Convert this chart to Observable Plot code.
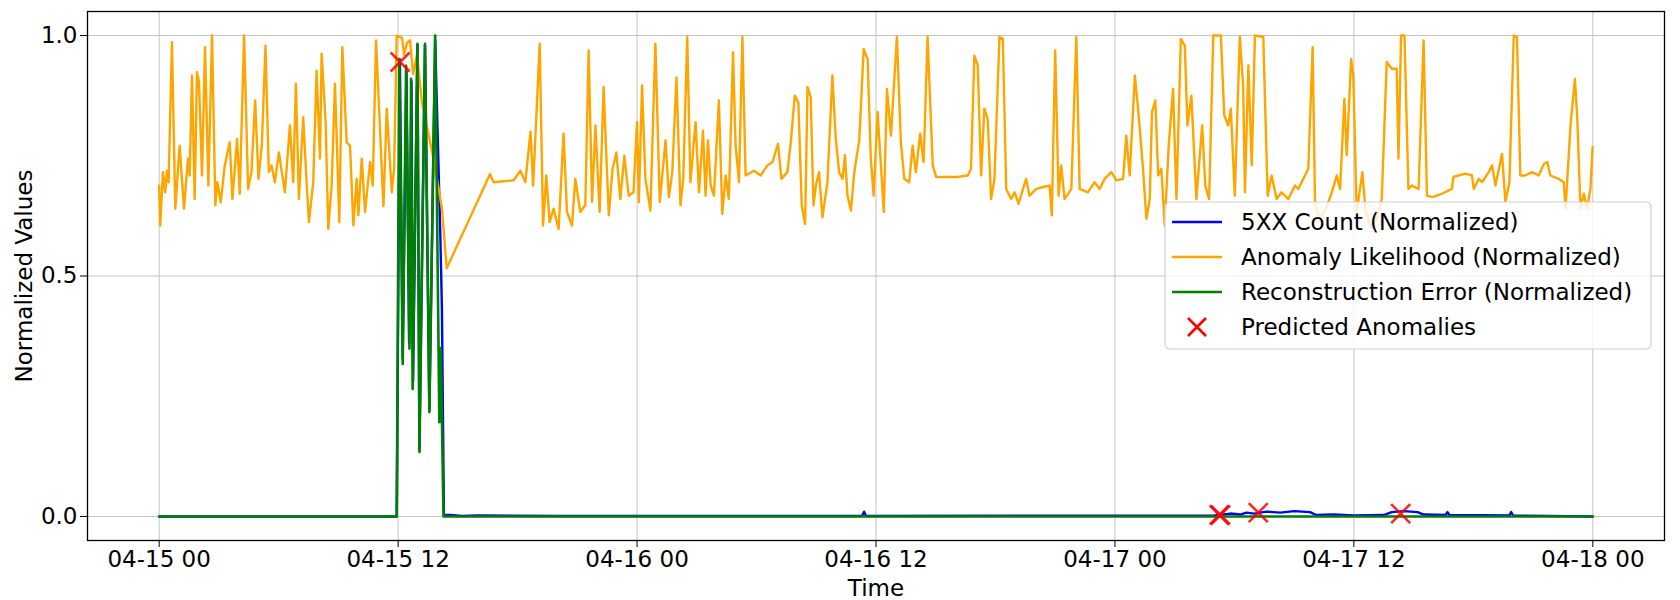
<!DOCTYPE html>
<html>
<head>
<meta charset="utf-8">
<script src="https://cdn.jsdelivr.net/npm/d3@7"></script>
<script src="https://cdn.jsdelivr.net/npm/@observablehq/plot@0.6"></script>
<style>
  html, body { margin: 0; padding: 0; background: white; }
  #chart { width: 1680px; height: 600px; }
</style>
</head>
<body>
<div id="chart"></div>
<script>
// ---- data (hours after 04-15 00:00, normalized value) ----
const startDate = Date.UTC(2024, 3, 15, 0, 0);
const tickHours = [0, 12, 24, 36, 48, 60, 72];
const yTicks = [0, 0.5, 1.0];

const likelihoodPoints = [
[0,0.688],[0.054,0.605],[0.188,0.716],[0.305,0.674],[0.389,0.719],[0.473,0.695],[0.641,0.986],[0.809,0.640],
[1.027,0.771],[1.245,0.640],[1.446,0.744],[1.53,0.709],[1.648,0.917],[1.782,0.660],[1.899,0.924],[2.0,0.903],
[2.151,0.709],[2.302,0.976],[2.47,0.688],[2.654,1.0],[2.822,0.647],[2.923,0.695],[3.091,0.653],[3.292,0.730],
[3.544,0.778],[3.678,0.660],[3.913,0.785],[4.047,0.671],[4.265,1.0],[4.466,0.681],[4.634,0.716],[4.819,0.865],
[4.987,0.702],[5.154,0.771],[5.339,0.979],[5.507,0.716],[5.641,0.730],[5.809,0.695],[6.01,0.757],[6.312,0.674],
[6.564,0.813],[6.732,0.695],[6.866,0.900],[7.017,0.660],[7.235,0.830],[7.403,0.695],[7.52,0.612],[7.738,0.695],
[7.906,0.927],[8.074,0.744],[8.158,0.962],[8.359,0.820],[8.493,0.598],[8.661,0.688],[8.829,0.900],[9.047,0.612],
[9.198,0.976],[9.416,0.778],[9.584,0.771],[9.752,0.605],[9.919,0.702],[10.003,0.626],[10.171,0.744],[10.339,0.633],
[10.59,0.737],[10.725,0.688],[10.892,0.990],[11.262,0.645],[11.43,0.848],[11.681,0.674],[11.799,0.723],[11.93,1.0],
[12.2,0.995],[12.3,0.96],[12.45,0.985],[12.6,0.99],[12.75,0.92],[12.95,0.96],[13.2,0.86],[13.5,0.80],
[13.7,0.76],[14.0,0.69],[14.2,0.64],[14.44,0.516],[16.62,0.712],[16.79,0.695],[17.3,0.697],[17.81,0.699],
[18.14,0.719],[18.39,0.695],[18.65,0.80],[18.78,0.688],[19.11,0.983],[19.28,0.605],[19.44,0.709],[19.61,0.612],
[19.81,0.640],[20.06,0.598],[20.31,0.796],[20.48,0.633],[20.73,0.605],[20.9,0.702],[21.15,0.633],[21.4,0.647],
[21.57,0.969],[21.74,0.654],[21.91,0.813],[22.12,0.633],[22.32,0.893],[22.58,0.626],[22.77,0.723],[22.96,0.757],
[23.16,0.660],[23.36,0.750],[23.58,0.667],[23.82,0.674],[24.0,0.820],[24.09,0.654],[24.25,0.896],[24.42,0.702],
[24.67,0.636],[24.92,0.983],[25.14,0.654],[25.43,0.782],[25.6,0.664],[25.77,0.716],[25.98,0.913],[26.18,0.647],
[26.32,0.702],[26.52,0.997],[26.68,0.695],[26.94,0.820],[27.11,0.674],[27.31,0.802],[27.44,0.667],[27.56,0.782],
[27.7,0.688],[27.86,0.667],[28.11,0.865],[28.28,0.629],[28.45,0.709],[28.61,0.660],[28.82,0.965],[28.95,0.771],
[29.12,0.695],[29.29,0.997],[29.45,0.709],[29.87,0.719],[30.21,0.709],[30.54,0.730],[30.8,0.737],[31.08,0.775],
[31.25,0.702],[31.55,0.716],[31.72,0.778],[31.92,0.875],[32.1,0.861],[32.27,0.647],[32.44,0.608],[32.56,0.893],
[32.72,0.872],[32.86,0.647],[32.98,0.688],[33.14,0.716],[33.31,0.622],[33.56,0.695],[33.81,0.917],[33.98,0.785],
[34.15,0.716],[34.32,0.702],[34.44,0.751],[34.57,0.667],[34.74,0.636],[34.91,0.716],[35.16,0.782],[35.38,0.972],
[35.58,0.951],[35.74,0.744],[35.88,0.667],[36.08,0.841],[36.39,0.633],[36.55,0.889],[36.75,0.792],[37.05,0.997],
[37.25,0.778],[37.42,0.702],[37.67,0.695],[37.84,0.771],[38.0,0.716],[38.22,0.796],[38.39,0.737],[38.59,0.997],
[38.85,0.730],[39.02,0.706],[39.43,0.706],[40.1,0.706],[40.61,0.709],[40.77,0.723],[40.94,0.958],[41.11,0.938],
[41.28,0.709],[41.44,0.848],[41.61,0.827],[41.78,0.660],[41.95,0.702],[42.2,0.997],[42.37,0.993],[42.54,0.681],
[42.79,0.660],[42.96,0.674],[43.16,0.650],[43.54,0.702],[43.71,0.667],[44.05,0.681],[44.38,0.685],[44.72,0.688],
[44.83,0.626],[45.0,0.969],[45.17,0.667],[45.3,0.730],[45.47,0.660],[45.81,0.681],[46.06,0.997],[46.23,0.681],
[46.64,0.674],[46.98,0.695],[47.23,0.681],[47.48,0.702],[47.82,0.716],[48.07,0.699],[48.41,0.702],[48.57,0.792],
[48.74,0.709],[49.0,0.917],[49.16,0.848],[49.33,0.765],[49.41,0.723],[49.58,0.619],[49.75,0.660],[49.86,0.841],
[50.03,0.865],[50.17,0.709],[50.33,0.723],[50.5,0.605],[50.7,0.771],[50.92,0.889],[51.09,0.660],[51.31,0.993],
[51.51,0.979],[51.64,0.813],[51.84,0.875],[52.09,0.660],[52.38,0.813],[52.54,0.688],[52.73,0.660],[52.94,1.0],
[53.32,1.0],[53.49,0.834],[53.69,0.813],[53.82,0.848],[54.02,0.667],[54.27,0.997],[54.44,0.896],[54.53,0.674],
[54.7,0.938],[54.87,0.730],[55.03,1.0],[55.45,0.997],[55.67,0.667],[55.87,0.709],[56.12,0.660],[56.37,0.674],
[56.71,0.660],[57.04,0.688],[57.21,0.681],[57.46,0.702],[57.71,0.723],[57.93,0.976],[58.05,0.647],[58.3,0.62],
[58.6,0.64],[58.89,0.674],[59.14,0.709],[59.31,0.681],[59.52,0.868],[59.64,0.751],[59.86,0.951],[59.97,0.917],
[60.14,0.633],[60.43,0.716],[60.59,0.633],[60.9,0.60],[61.15,0.62],[61.4,0.660],[61.65,0.945],[61.9,0.931],
[62.15,0.931],[62.24,0.744],[62.37,1.0],[62.54,1.0],[62.74,0.681],[62.91,0.688],[63.25,0.681],[63.5,0.990],
[63.67,0.667],[63.92,0.664],[64.42,0.671],[64.92,0.681],[65.0,0.706],[65.26,0.709],[65.59,0.713],[65.93,0.709],
[66.02,0.681],[66.27,0.702],[66.44,0.695],[66.77,0.716],[66.94,0.730],[67.11,0.688],[67.44,0.754],[67.61,0.654],
[67.81,0.695],[68.03,1.0],[68.19,0.997],[68.36,0.709],[68.61,0.709],[68.95,0.716],[69.28,0.709],[69.54,0.733],
[69.71,0.737],[69.87,0.709],[70.29,0.702],[70.54,0.695],[70.63,0.640],[70.88,0.813],[71.1,0.910],[71.22,0.827],
[71.38,0.640],[71.55,0.671],[71.71,0.640],[71.88,0.681],[71.99,0.768]
];

const errorPoints = [
[0,0],[11.93,0],[12.06,0.951],[12.23,0.317],[12.40,0.937],[12.57,0.349],[12.65,0.91],[12.73,0.265],
[12.97,0.983],[13.07,0.134],[13.35,0.983],[13.57,0.217],[13.86,1.0],[14.07,0.196],[14.14,0.35],[14.28,0.0],[72,0]
];

const countPoints = [
[0,0],[11.93,0],[12.09,0.95],[12.23,0.33],[12.42,0.925],[12.55,0.36],[12.67,0.905],[12.75,0.28],
[12.97,0.98],[13.07,0.14],[13.35,0.98],[13.57,0.22],[13.86,0.99],[14.12,0.585],[14.2,0.43],[14.3,0.003],
[14.6,0.003],[15.2,0.001],[16.0,0.002],[20.0,0.001],[35.3,0.001],[35.4,0.01],[35.5,0.001],[53.0,0.002],
[53.8,0.006],[54.3,0.004],[54.6,0.008],[55.0,0.006],[55.6,0.010],[56.3,0.008],[57.0,0.011],[57.8,0.009],
[58.1,0.003],[59.0,0.004],[60.0,0.002],[61.5,0.003],[61.9,0.009],[62.5,0.011],[63.2,0.009],[63.5,0.004],
[64.6,0.003],[64.7,0.009],[64.8,0.003],[67.8,0.002],[67.9,0.009],[68.0,0.002],[72,0]
];

const anomalyPoints = [[12.1,0.945],[53.24,0.003],[53.3,0.003],[55.2,0.008],[62.35,0.006]];

const legendLabels = ["5XX Count (Normalized)", "Anomaly Likelihood (Normalized)", "Reconstruction Error (Normalized)", "Predicted Anomalies"];
const seriesColors = ["blue", "orange", "green", "red"];
// -----------------------------------------------------------

const toDate = h => new Date(startDate + h * 3600e3);
const rows = pts => pts.map(([h, v]) => ({t: toDate(h), v}));
const likelihood = rows(likelihoodPoints);
const errorData = rows(errorPoints);
const countData = rows(countPoints);
const anomalies = rows(anomalyPoints);
const tickDates = tickHours.map(toDate);
const fmt = d3.utcFormat("%m-%d %H");

const chart = Plot.plot({
  width: 1680,
  height: 600,
  marginLeft: 87,
  marginRight: 16,
  marginTop: 11,
  marginBottom: 60,
  style: {fontFamily: "DejaVu Sans", fontSize: "23px", color: "black", background: "white", overflow: "visible"},
  x: {type: "utc", domain: [toDate(-3.6), toDate(75.6)], label: null},
  y: {domain: [-0.05, 1.05], label: null},
  marks: [
    Plot.gridX(tickDates, {stroke: "#c4c4c4", strokeOpacity: 1, strokeWidth: 1}),
    Plot.gridY(yTicks, {stroke: "#c4c4c4", strokeOpacity: 1, strokeWidth: 1}),
    Plot.line(countData, {x: "t", y: "v", stroke: seriesColors[0], strokeWidth: 2.4}),
    Plot.line(likelihood, {x: "t", y: "v", stroke: seriesColors[1], strokeWidth: 2.4}),
    Plot.line(errorData, {x: "t", y: "v", stroke: seriesColors[2], strokeWidth: 2.6}),
    Plot.dot(anomalies, {x: "t", y: "v", symbol: "times", r: 8.7, stroke: seriesColors[3], strokeWidth: 2.6, strokeOpacity: 0.85}),
    Plot.frame({stroke: "black", strokeWidth: 1.3}),
    Plot.axisX(tickDates, {tickFormat: fmt, tickSize: 7, tickPadding: 3, label: null, fontSize: 23}),
    Plot.axisY(yTicks, {tickFormat: d3.format(".1f"), tickSize: 7, tickPadding: 3, label: null, fontSize: 23}),
    Plot.text(["Normalized Values"], {frameAnchor: "left", textAnchor: "middle", lineAnchor: "middle", dx: -63, rotate: -90, fontSize: 23, fill: "black"}),
    Plot.text(["Time"], {frameAnchor: "bottom", textAnchor: "middle", lineAnchor: "middle", dy: 48, fontSize: 23, fill: "black"})
  ]
});

document.getElementById("chart").appendChild(chart);

// legend (matplotlib-style box inside the axes)
const svg = d3.select(chart);
const lg = svg.append("g").attr("font-family", "DejaVu Sans").attr("font-size", 23).attr("text-anchor", "start");
lg.append("rect")
  .attr("x", 1165).attr("y", 202).attr("width", 486).attr("height", 147)
  .attr("rx", 5).attr("fill", "white").attr("fill-opacity", 0.8)
  .attr("stroke", "#d0d0d0").attr("stroke-width", 1.2);
legendLabels.forEach((label, i) => {
  const cy = 222 + i * 35;
  if (i < 3) {
    lg.append("line").attr("x1", 1172).attr("x2", 1222).attr("y1", cy).attr("y2", cy)
      .attr("stroke", seriesColors[i]).attr("stroke-width", 2.4);
  } else {
    const s = 9;
    lg.append("path")
      .attr("d", `M${1197 - s},${cy - s}L${1197 + s},${cy + s}M${1197 - s},${cy + s}L${1197 + s},${cy - s}`)
      .attr("stroke", seriesColors[i]).attr("stroke-width", 2.6).attr("fill", "none");
  }
  lg.append("text").attr("x", 1241).attr("y", cy).attr("dy", "0.36em").attr("fill", "black")
    .attr("text-anchor", "start").text(label);
});
</script>
</body>
</html>
